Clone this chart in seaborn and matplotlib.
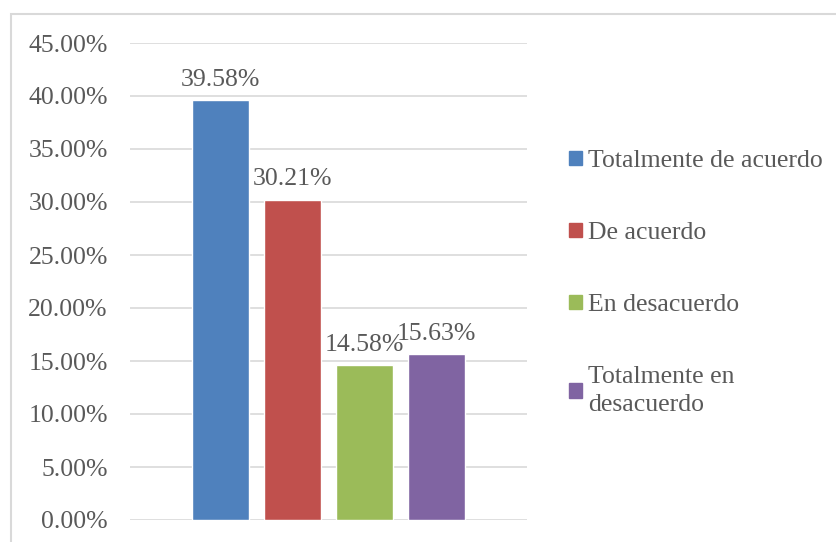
import matplotlib
matplotlib.use("Agg")
import matplotlib.pyplot as plt
import matplotlib.patches as mpatches
import seaborn as sns
import pandas as pd
from matplotlib.ticker import PercentFormatter

# Data
categories = ["Totalmente de acuerdo", "De acuerdo", "En desacuerdo", "Totalmente en\ndesacuerdo"]
values = [0.3958, 0.3021, 0.1458, 0.1563]
colors = ["#4F81BD", "#C0504D", "#9BBB59", "#8064A2"]

df = pd.DataFrame({"grupo": [""] * len(categories), "respuesta": categories, "valor": values})

sns.set_style("white")
plt.rcParams["font.family"] = ["Liberation Serif", "DejaVu Serif"]
text_color = "#595959"
grid_color = "#D9D9D9"

fig = plt.figure(figsize=(8.37, 5.42), dpi=100)
ax = fig.add_axes([130 / 837, 1 - 520 / 542, 397 / 837, 477 / 542])

sns.barplot(data=df, x="grupo", y="valor", hue="respuesta", hue_order=categories,
            palette=colors, width=0.725, gap=0.21, saturation=1, ax=ax, legend=False)

for cont in ax.containers:
    ax.bar_label(cont, labels=[f"{v * 100:.2f}%" for v in cont.datavalues],
                 padding=7, fontsize=18.5, color=text_color)

ax.set_ylim(0, 0.45)
ax.set_xlim(-0.5, 0.5)
ax.set_yticks([i * 0.05 for i in range(10)])
ax.yaxis.set_major_formatter(PercentFormatter(1.0, decimals=2))
ax.tick_params(axis="y", labelsize=18.5, labelcolor=text_color, length=0, pad=16)
ax.set_xticks([])
ax.set_xlabel("")
ax.set_ylabel("")
ax.grid(axis="y", color=grid_color, linewidth=1.2)
ax.set_axisbelow(True)
for s in ax.spines.values():
    s.set_visible(False)

handles = [mpatches.Patch(color=c) for c in colors]
leg = fig.legend(handles, categories, loc="upper left", bbox_to_anchor=(569 / 837, 1 - 150 / 542),
                 frameon=False, fontsize=18.5, labelcolor=text_color, borderpad=0, borderaxespad=0,
                 handlelength=0.5, handleheight=0.5, handletextpad=0.25, labelspacing=1.95)
for t in leg.get_texts():
    t.set_linespacing(1.35)

# outer chart border
fig.patches.append(mpatches.Rectangle((11 / 837, -0.1), 2, 1 - 14 / 542 + 0.1,
                                      transform=fig.transFigure, fill=False,
                                      edgecolor=grid_color, linewidth=1.5))

fig.savefig("out.png", dpi=100)
